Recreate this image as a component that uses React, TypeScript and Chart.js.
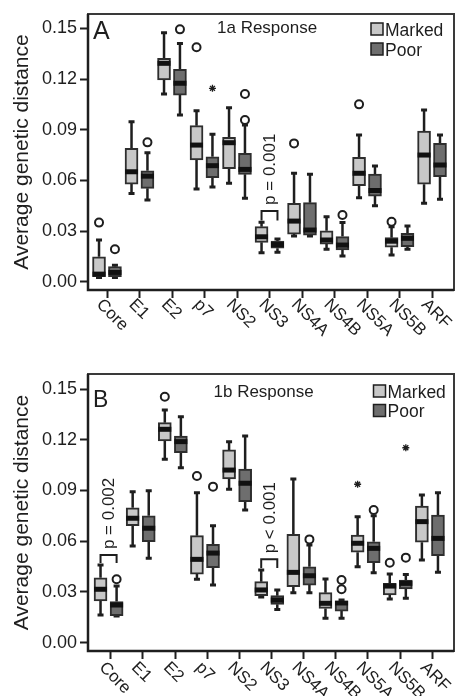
import React, { useEffect, useRef } from "react";
import { Chart, registerables } from "chart.js";

Chart.register(...registerables);

type Stat = [number, number, number, number, number]; // min, q1, median, q3, max
type Pt = [number, number]; // category index, value
type PTest = [number, number, number, string]; // category index, bracket top, leg bottom, label

const categories = ["Core", "E1", "E2", "p7", "NS2", "NS3", "NS4A", "NS4B", "NS5A", "NS5B", "ARF"];
const seriesNames = ["Marked", "Poor"];
const yTickValues = [0, 0.03, 0.06, 0.09, 0.12, 0.15];

// ---- Panel A: 1a Response ----
const markedA: Stat[] = [
  [0.0025, 0.003, 0.0045, 0.0148, 0.0247],
  [0.0523, 0.0578, 0.0651, 0.079, 0.0947],
  [0.1111, 0.1194, 0.1293, 0.1323, 0.1474],
  [0.0549, 0.0721, 0.0809, 0.0924, 0.1012],
  [0.0583, 0.0669, 0.0823, 0.0855, 0.103],
  [0.0172, 0.0233, 0.0266, 0.0326, 0.0352],
  [0.0271, 0.0282, 0.0359, 0.0464, 0.0642],
  [0.0192, 0.0223, 0.0247, 0.0302, 0.0385],
  [0.0497, 0.0568, 0.0642, 0.0737, 0.0869],
  [0.0158, 0.0204, 0.024, 0.0261, 0.0326],
  [0.0464, 0.0577, 0.075, 0.0892, 0.1017],
];
const poorA: Stat[] = [
  [0.0025, 0.003, 0.0055, 0.009, 0.0097],
  [0.0484, 0.0553, 0.0625, 0.0657, 0.0764],
  [0.0987, 0.1105, 0.1175, 0.1258, 0.1411],
  [0.0561, 0.0616, 0.0687, 0.074, 0.0873],
  [0.0494, 0.0636, 0.0665, 0.076, 0.0928],
  [0.0174, 0.0198, 0.022, 0.0241, 0.0253],
  [0.0271, 0.0275, 0.0306, 0.0468, 0.0636],
  [0.0152, 0.0188, 0.0217, 0.0267, 0.035],
  [0.045, 0.0507, 0.054, 0.0638, 0.0685],
  [0.0192, 0.0207, 0.0257, 0.0287, 0.033],
  [0.0488, 0.0622, 0.0691, 0.0819, 0.0869],
];
const outMarkedA: Pt[] = [[0, 0.035], [3, 0.1388], [6, 0.0819], [8, 0.105], [9, 0.0355]];
const outPoorA: Pt[] = [[0, 0.0192], [1, 0.0825], [2, 0.1494], [4, 0.0957], [4, 0.1111], [7, 0.0395]];
const extMarkedA: Pt[] = [];
const extPoorA: Pt[] = [[3, 0.1145]];
const testsA: PTest[] = [[5, 0.0419, 0.0362, "p = 0.001"]];

// ---- Panel B: 1b Response ----
const markedB: Stat[] = [
  [0.0164, 0.0247, 0.0316, 0.0384, 0.046],
  [0.0572, 0.0692, 0.0736, 0.0798, 0.0893],
  [0.1085, 0.1193, 0.1262, 0.1301, 0.1376],
  [0.0375, 0.0406, 0.0493, 0.0633, 0.0887],
  [0.0907, 0.0968, 0.1021, 0.114, 0.1189],
  [0.027, 0.0278, 0.0312, 0.0361, 0.043],
  [0.0296, 0.0331, 0.0416, 0.0641, 0.0968],
  [0.0144, 0.0203, 0.0233, 0.0296, 0.0377],
  [0.0449, 0.0535, 0.0588, 0.0637, 0.0745],
  [0.0258, 0.0282, 0.0335, 0.0351, 0.0406],
  [0.0489, 0.0594, 0.0716, 0.0808, 0.0873],
];
const poorB: Stat[] = [
  [0.0158, 0.016, 0.0223, 0.0243, 0.0335],
  [0.05, 0.0597, 0.0677, 0.0751, 0.0899],
  [0.1035, 0.1124, 0.1189, 0.1222, 0.1336],
  [0.0341, 0.0444, 0.053, 0.0582, 0.0692],
  [0.0785, 0.0834, 0.0943, 0.1027, 0.1222],
  [0.0197, 0.0227, 0.0252, 0.0278, 0.0312],
  [0.0296, 0.0341, 0.0396, 0.0449, 0.0578],
  [0.0144, 0.0187, 0.0235, 0.0248, 0.0252],
  [0.0414, 0.0473, 0.0558, 0.0597, 0.0751],
  [0.0263, 0.0318, 0.0351, 0.0371, 0.0404],
  [0.0416, 0.0514, 0.0617, 0.0755, 0.0887],
];
const outMarkedB: Pt[] = [[2, 0.1455], [3, 0.0986], [9, 0.0473]];
const outPoorB: Pt[] = [[0, 0.0375], [3, 0.0923], [6, 0.0611], [7, 0.0316], [7, 0.0371], [8, 0.0785], [9, 0.0503]];
const extMarkedB: Pt[] = [[8, 0.0937]];
const extPoorB: Pt[] = [[9, 0.1153]];
const testsB: PTest[] = [
  [0, 0.0518, 0.0472, "p = 0.002"],
  [5, 0.0493, 0.0442, "p < 0.001"],
];

// ---- styling ----
const FONT = '"Liberation Sans", Arial, Helvetica, sans-serif';
const INK = "#1e1e1e";
const EDGE = "#2e2e2e";
const FILLS = ["#c8c8c8", "#6e6e6e"];
const BOX_W = 13;

interface Panel {
  letter: string;
  title: string;
  marked: Stat[];
  poor: Stat[];
  outMarked: Pt[];
  outPoor: Pt[];
  extMarked: Pt[];
  extPoor: Pt[];
  tests: PTest[];
  height: number;
  padTop: number;
  xAxisH: number;
  xMin: number;
  xMax: number;
  yMin: number;
  yMax: number;
  offsets: [number, number];
  letterSize: number;
  letterDy: number;
  titleDx: number;
  titleDy: number;
  legendDx: number;
  legendDy: number;
  legendGap: number;
  labelDx: number;
  labelDy: number;
}

const panelA: Panel = {
  letter: "A",
  title: "1a Response",
  marked: markedA,
  poor: poorA,
  outMarked: outMarkedA,
  outPoor: outPoorA,
  extMarked: extMarkedA,
  extPoor: extPoorA,
  tests: testsA,
  height: 340,
  padTop: 14,
  xAxisH: 50,
  xMin: -0.589,
  xMax: 10.671,
  yMin: -0.0049,
  yMax: 0.1585,
  offsets: [-0.25, 0.24],
  letterSize: 25,
  letterDy: 25,
  titleDx: 129,
  titleDy: 19,
  legendDx: -83,
  legendDy: 9,
  legendGap: 20,
  labelDx: -8,
  labelDy: 12,
};

const panelB: Panel = {
  letter: "B",
  title: "1b Response",
  marked: markedB,
  poor: poorB,
  outMarked: outMarkedB,
  outPoor: outPoorB,
  extMarked: extMarkedB,
  extPoor: extPoorB,
  tests: testsB,
  height: 356,
  padTop: 34,
  xAxisH: 45,
  xMin: -0.71,
  xMax: 10.679,
  yMin: -0.0049,
  yMax: 0.1589,
  offsets: [-0.32, 0.18],
  letterSize: 23,
  letterDy: 32.5,
  titleDx: 125.5,
  titleDy: 22.5,
  legendDx: -80.5,
  legendDy: 11,
  legendGap: 19.5,
  labelDx: -9,
  labelDy: 14,
};

function makePlugin(p: Panel) {
  const groups = [p.marked, p.poor];
  return {
    id: "boxDecor" + p.letter,
    beforeDatasetsDraw(chart: any) {
      const { ctx, scales } = chart;
      const x = scales.x;
      const y = scales.y;
      ctx.save();
      ctx.strokeStyle = INK;
      groups.forEach((stats, gi) => {
        stats.forEach((s, i) => {
          const px = x.getPixelForValue(i + p.offsets[gi]);
          ctx.lineWidth = 2.5;
          ctx.beginPath();
          ctx.moveTo(px, y.getPixelForValue(s[3]));
          ctx.lineTo(px, y.getPixelForValue(s[4]));
          ctx.moveTo(px, y.getPixelForValue(s[1]));
          ctx.lineTo(px, y.getPixelForValue(s[0]));
          ctx.stroke();
          ctx.lineWidth = 3;
          ctx.beginPath();
          [s[0], s[4]].forEach((v) => {
            const py = y.getPixelForValue(v);
            ctx.moveTo(px - 3, py);
            ctx.lineTo(px + 3, py);
          });
          ctx.stroke();
        });
      });
      ctx.restore();
    },
    afterDatasetsDraw(chart: any) {
      const { ctx, scales } = chart;
      const x = scales.x;
      const y = scales.y;
      ctx.save();
      ctx.fillStyle = "#111";
      groups.forEach((stats, gi) => {
        stats.forEach((s, i) => {
          const px = x.getPixelForValue(i + p.offsets[gi]);
          const pm = y.getPixelForValue(s[2]);
          const top = Math.max(pm - 2.5, y.getPixelForValue(s[3]));
          const bot = Math.min(pm + 2.5, y.getPixelForValue(s[1]));
          ctx.fillRect(px - BOX_W / 2, top, BOX_W, Math.max(bot - top, 1));
        });
      });
      ctx.restore();
    },
    afterDraw(chart: any) {
      const { ctx, scales, chartArea } = chart;
      const x = scales.x;
      const y = scales.y;
      const { left, right, top, bottom } = chartArea;
      ctx.save();
      // frame
      ctx.strokeStyle = "#3a3a3a";
      ctx.lineWidth = 2;
      ctx.strokeRect(left, top, right - left, bottom - top);
      ctx.strokeStyle = INK;
      ctx.lineWidth = 2.5;
      ctx.beginPath();
      ctx.moveTo(left, top);
      ctx.lineTo(left, bottom);
      ctx.lineTo(right, bottom);
      ctx.stroke();

      // category labels (rotated 45 deg clockwise)
      ctx.fillStyle = INK;
      ctx.font = `17px ${FONT}`;
      ctx.textAlign = "left";
      ctx.textBaseline = "middle";
      categories.forEach((c, i) => {
        const px = x.getPixelForValue(i);
        ctx.save();
        ctx.translate(px + p.labelDx, bottom + p.labelDy);
        ctx.rotate(Math.PI / 4);
        ctx.fillText(c, 0, 0);
        ctx.restore();
      });

      // panel letter
      ctx.textBaseline = "alphabetic";
      ctx.font = `${p.letterSize}px ${FONT}`;
      ctx.fillText(p.letter, left + 5, top + p.letterDy);

      // title
      ctx.font = `17px ${FONT}`;
      ctx.fillText(p.title, left + p.titleDx, top + p.titleDy);

      // legend
      ctx.font = `17.5px ${FONT}`;
      seriesNames.forEach((name, gi) => {
        const bx = right + p.legendDx;
        const by = top + p.legendDy + gi * p.legendGap;
        ctx.fillStyle = FILLS[gi];
        ctx.fillRect(bx, by, 12, 12);
        ctx.strokeStyle = INK;
        ctx.lineWidth = 1.5;
        ctx.strokeRect(bx, by, 12, 12);
        ctx.fillStyle = INK;
        ctx.fillText(name, bx + 14, by + 12.5);
      });

      // significance brackets
      ctx.strokeStyle = INK;
      ctx.lineWidth = 2;
      p.tests.forEach(([ci, vTop, vLeg, label]) => {
        const xl = x.getPixelForValue(ci + p.offsets[0]);
        const xr = x.getPixelForValue(ci + p.offsets[1]);
        const yt = y.getPixelForValue(vTop);
        const yb = y.getPixelForValue(vLeg);
        ctx.beginPath();
        ctx.moveTo(xl, yb);
        ctx.lineTo(xl, yt);
        ctx.lineTo(xr, yt);
        ctx.lineTo(xr, yb);
        ctx.stroke();
        ctx.save();
        ctx.translate((xl + xr) / 2 + 1, yt - 6);
        ctx.rotate(-Math.PI / 2);
        ctx.font = `17px ${FONT}`;
        ctx.textAlign = "left";
        ctx.textBaseline = "middle";
        ctx.fillStyle = INK;
        ctx.fillText(label, 0, 0);
        ctx.restore();
      });
      ctx.restore();
    },
  };
}

function buildConfig(p: Panel): any {
  const groups = [p.marked, p.poor];
  const bars = groups.map((stats, gi) => ({
    type: "bar",
    label: seriesNames[gi],
    data: stats.map((s, i) => ({ x: i + p.offsets[gi], y: [s[1], s[3]] })),
    backgroundColor: FILLS[gi],
    borderColor: EDGE,
    borderWidth: 2,
    borderSkipped: false,
    barThickness: BOX_W,
    grouped: false,
    order: 2,
  }));
  const circles = [p.outMarked, p.outPoor].map((pts, gi) => ({
    type: "scatter",
    label: seriesNames[gi] + " outliers",
    data: pts.map(([c, v]) => ({ x: c + p.offsets[gi], y: v })),
    pointStyle: "circle",
    pointRadius: 4,
    pointBorderWidth: 2,
    pointBorderColor: INK,
    pointBackgroundColor: "#ffffff",
    order: 1,
  }));
  const stars = [p.extMarked, p.extPoor].map((pts, gi) => ({
    type: "scatter",
    label: seriesNames[gi] + " extremes",
    data: pts.map(([c, v]) => ({ x: c + p.offsets[gi], y: v })),
    pointStyle: "star",
    pointRadius: 3.5,
    pointBorderWidth: 1.3,
    pointBorderColor: INK,
    pointBackgroundColor: "rgba(0,0,0,0)",
    order: 1,
  }));
  return {
    type: "bar",
    data: { datasets: [...bars, ...circles, ...stars] },
    options: {
      animation: false,
      responsive: false,
      devicePixelRatio: 1,
      events: [],
      layout: { padding: { top: p.padTop, right: 3, left: 0, bottom: 0 } },
      plugins: { legend: { display: false }, tooltip: { enabled: false }, title: { display: false } },
      scales: {
        x: {
          type: "linear",
          min: p.xMin,
          max: p.xMax,
          offset: false,
          afterBuildTicks: (s: any) => {
            s.ticks = categories.map((_, i) => ({ value: i }));
          },
          afterFit: (s: any) => {
            s.height = p.xAxisH;
          },
          ticks: { display: false },
          grid: { offset: false, drawOnChartArea: false, drawTicks: true, tickLength: 8, tickColor: INK, tickWidth: 2 },
          border: { display: false },
        },
        y: {
          type: "linear",
          min: p.yMin,
          max: p.yMax,
          afterBuildTicks: (s: any) => {
            s.ticks = yTickValues.map((v) => ({ value: v }));
          },
          afterFit: (s: any) => {
            s.width = 88;
          },
          ticks: {
            callback: (v: any) => Number(v).toFixed(2),
            font: { family: FONT, size: 18 },
            color: INK,
            padding: 3,
            autoSkip: false,
          },
          grid: { drawOnChartArea: false, drawTicks: true, tickLength: 8, tickColor: INK, tickWidth: 2 },
          border: { display: false },
          title: {
            display: true,
            text: "Average genetic distance",
            font: { family: FONT, size: 21 },
            color: INK,
            padding: { top: 10, bottom: 0 },
          },
        },
      },
    },
    plugins: [makePlugin(p)],
  };
}

function BoxPanel({ panel }: { panel: Panel }) {
  const ref = useRef<HTMLCanvasElement | null>(null);
  useEffect(() => {
    if (!ref.current) return;
    const chart = new Chart(ref.current, buildConfig(panel));
    return () => chart.destroy();
  }, [panel]);
  return (
    <canvas
      ref={ref}
      width={460}
      height={panel.height}
      style={{ display: "block", width: 460, height: panel.height }}
    />
  );
}

export default function App() {
  return (
    <div style={{ position: "absolute", left: 0, top: 0, width: 460, height: 696, background: "#ffffff", overflow: "hidden" }}>
      <BoxPanel panel={panelA} />
      <BoxPanel panel={panelB} />
    </div>
  );
}
